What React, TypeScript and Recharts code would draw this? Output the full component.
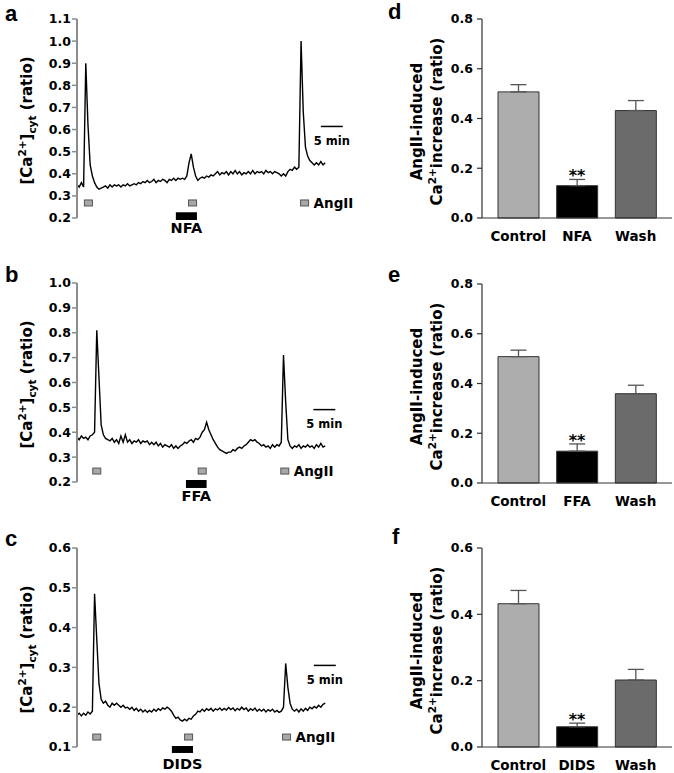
import React from 'react';
import {
  LineChart,
  Line,
  XAxis,
  YAxis,
  ReferenceDot,
  ReferenceArea,
  ReferenceLine,
  BarChart,
  Bar,
  ErrorBar,
  Cell,
} from 'recharts';

const FONT = "'DejaVu Sans', sans-serif";
const SAMPLE_MIN = 0.5; // one reading every 30 s

// [Ca2+]cyt ratio traces
const TRACE_A = [
  0.35, 0.34, 0.36, 0.34, 0.9, 0.62, 0.44, 0.39, 0.36, 0.34,
  0.33, 0.335, 0.34, 0.345, 0.335, 0.35, 0.34, 0.35, 0.345, 0.35,
  0.34, 0.35, 0.345, 0.355, 0.345, 0.35, 0.355, 0.35, 0.36, 0.355,
  0.365, 0.36, 0.37, 0.36, 0.365, 0.375, 0.36, 0.37, 0.365, 0.375,
  0.37, 0.36, 0.375, 0.37, 0.38, 0.37, 0.38, 0.375, 0.38, 0.375,
  0.39, 0.45, 0.49, 0.43, 0.39, 0.37, 0.38, 0.385, 0.38, 0.39,
  0.385, 0.395, 0.39, 0.4, 0.41, 0.395, 0.405, 0.4, 0.41, 0.395,
  0.41, 0.4, 0.415, 0.4, 0.41, 0.395, 0.405, 0.4, 0.41, 0.4,
  0.415, 0.4, 0.41, 0.405, 0.41, 0.4, 0.415, 0.405, 0.41, 0.4,
  0.41, 0.405, 0.4, 0.39, 0.4, 0.39, 0.41, 0.42, 0.415, 0.43,
  0.42, 0.43, 1.0, 0.68, 0.52, 0.48, 0.46, 0.45, 0.44, 0.45,
  0.44, 0.455, 0.44, 0.45,
];

const TRACE_B = [
  0.38, 0.37, 0.385, 0.375, 0.38, 0.37, 0.385, 0.39, 0.4, 0.81,
  0.62, 0.43, 0.39, 0.375, 0.37, 0.365, 0.375, 0.36, 0.37, 0.355,
  0.385, 0.36, 0.39, 0.36, 0.37, 0.355, 0.365, 0.36, 0.37, 0.355,
  0.365, 0.36, 0.365, 0.35, 0.36, 0.35, 0.36, 0.345, 0.355, 0.34,
  0.35, 0.345, 0.34, 0.35, 0.335, 0.345, 0.335, 0.345, 0.35, 0.36,
  0.355, 0.365, 0.37, 0.36, 0.375, 0.37, 0.38, 0.4, 0.41, 0.44,
  0.41, 0.39, 0.37, 0.355, 0.34, 0.33, 0.325, 0.32, 0.315, 0.32,
  0.32, 0.33, 0.325, 0.335, 0.34, 0.335, 0.345, 0.35, 0.36, 0.37,
  0.365, 0.37, 0.36, 0.355, 0.345, 0.35, 0.34, 0.345, 0.335, 0.35,
  0.34, 0.35, 0.345, 0.36, 0.71, 0.52, 0.37, 0.345, 0.335, 0.345,
  0.34, 0.35, 0.335, 0.345, 0.34, 0.35, 0.34, 0.345, 0.335, 0.35,
  0.34, 0.355, 0.34, 0.345,
];

const TRACE_C = [
  0.18, 0.185, 0.178, 0.185, 0.18, 0.188, 0.183, 0.19, 0.485, 0.37,
  0.26, 0.22, 0.21, 0.215, 0.205, 0.2, 0.21, 0.205, 0.21, 0.205,
  0.2, 0.205, 0.198, 0.2, 0.195, 0.2, 0.192, 0.197, 0.19, 0.195,
  0.188, 0.193, 0.187, 0.192, 0.188, 0.195, 0.19, 0.196, 0.192, 0.198,
  0.195, 0.2, 0.196, 0.19, 0.18, 0.172, 0.175, 0.168, 0.165, 0.17,
  0.166, 0.172, 0.17, 0.178, 0.182, 0.19, 0.188, 0.195, 0.19, 0.196,
  0.192, 0.197, 0.19, 0.196, 0.193, 0.198, 0.192, 0.197, 0.193, 0.199,
  0.194, 0.198, 0.191, 0.197, 0.193, 0.2, 0.194, 0.198, 0.19, 0.196,
  0.192, 0.198, 0.19, 0.195, 0.19, 0.195, 0.188, 0.194, 0.19, 0.195,
  0.188, 0.192, 0.187, 0.19, 0.2, 0.31, 0.25, 0.21, 0.195, 0.19,
  0.195, 0.188, 0.196, 0.19, 0.197, 0.192, 0.2, 0.196, 0.202, 0.198,
  0.205, 0.2, 0.207, 0.21,
];

const TICKS_A = [0.2, 0.3, 0.4, 0.5, 0.6, 0.7, 0.8, 0.9, 1.0, 1.1];
const TICKS_B = [0.2, 0.3, 0.4, 0.5, 0.6, 0.7, 0.8, 0.9, 1.0];
const TICKS_C = [0.1, 0.2, 0.3, 0.4, 0.5, 0.6];

// AngII pulses (min) and blocker application window (min)
const ANGII_A = [2.6, 26.3, 51.8];
const ANGII_B = [4.5, 28.5, 47.3];
const ANGII_C = [4.5, 25.4, 47.7];
const BLOCK_A = [22.5, 27.3];
const BLOCK_B = [24.8, 29.5];
const BLOCK_C = [21.6, 26.4];
const SCALE_A = [55.5, 60.5];
const SCALE_B = [53.8, 58.8];
const SCALE_C = [53.9, 58.9];

// summary bars (mean, SEM)
const GROUPS_D = ['Control', 'NFA', 'Wash'];
const MEAN_D = [0.507, 0.13, 0.432];
const SEM_D = [0.029, 0.025, 0.04];
const GROUPS_E = ['Control', 'FFA', 'Wash'];
const MEAN_E = [0.508, 0.128, 0.359];
const SEM_E = [0.026, 0.029, 0.034];
const GROUPS_F = ['Control', 'DIDS', 'Wash'];
const MEAN_F = [0.432, 0.061, 0.202];
const SEM_F = [0.04, 0.011, 0.032];
const SIG = ['', '**', ''];
const BAR_TICKS_DE = [0, 0.2, 0.4, 0.6, 0.8];
const BAR_TICKS_F = [0, 0.2, 0.4, 0.6];
const BAR_FILLS = ['#adadad', '#000000', '#6b6b6b'];

const boldText = { fill: '#000', fontFamily: FONT, fontWeight: 'bold' as const };

function TraceLabel(props: any) {
  const vb = props.viewBox || { x: 0, y: 19, width: 77, height: 199 };
  const cx = vb.x + 27;
  const cy = vb.y + vb.height / 2 + 2;
  return (
    <text
      x={cx}
      y={cy + 5}
      transform={`rotate(-90 ${cx} ${cy})`}
      textAnchor="middle"
      fontFamily={FONT}
      fontWeight="bold"
      fontSize={15}
      fill="#000"
    >
      [Ca<tspan fontSize={10.5} dy={-6}>2+</tspan>
      <tspan dy={6}>]</tspan>
      <tspan fontSize={10.5} dy={4}>cyt</tspan>
      <tspan dy={-4}> (ratio)</tspan>
    </text>
  );
}

function BarLabel(props: any) {
  const vb = props.viewBox || { x: 0, y: 19, width: 142, height: 199 };
  const cy = vb.y + vb.height / 2 + 3;
  const x1 = vb.x + vb.width - 65;
  const x2 = vb.x + vb.width - 45;
  return (
    <g fontFamily={FONT} fontWeight="bold" fontSize={15} fill="#000">
      <text x={x1} y={cy + 5} transform={`rotate(-90 ${x1} ${cy})`} textAnchor="middle">
        AngII-induced
      </text>
      <text x={x2} y={cy + 5} transform={`rotate(-90 ${x2} ${cy})`} textAnchor="middle">
        Ca<tspan fontSize={10.5} dy={-6}>2+</tspan>
        <tspan dy={6}>increase (ratio)</tspan>
      </text>
    </g>
  );
}

const square = (p: any) => (
  <rect x={p.cx - 4} y={p.cy - 3} width={8} height={6} fill="#a8a8a8" stroke="#555" strokeWidth={1} />
);

function TracePanel({ top, values, ticks, angII, markY, block, blockY, drug, drugGap, scale, scaleY }: any) {
  const data = values.map((v: number, i: number) => ({ t: i * SAMPLE_MIN, v }));
  return (
    <div style={{ position: 'absolute', left: 0, top }}>
      <LineChart width={360} height={250} data={data} margin={{ top: 19, right: 15, bottom: 32, left: 0 }}>
        <XAxis type="number" dataKey="t" domain={[0, 61]} hide height={0} />
        <YAxis
          type="number"
          domain={[ticks[0], ticks[ticks.length - 1]]}
          ticks={ticks}
          interval={0}
          width={77}
          tickFormatter={(v: number) => v.toFixed(1)}
          axisLine={{ stroke: '#8c8c8c', strokeWidth: 2 }}
          tickLine={{ stroke: '#8c8c8c', strokeWidth: 1.5 }}
          tickSize={5}
          tickMargin={1}
          tick={{ ...boldText, fontSize: 12.5 }}
          label={{ content: (p: any) => <TraceLabel {...p} /> }}
        />
        <Line type="linear" dataKey="v" stroke="#000" strokeWidth={1.4} dot={false} isAnimationActive={false} />
        {angII.map((t: number, i: number) => (
          <ReferenceDot
            key={i}
            x={t}
            y={markY}
            r={4}
            shape={square}
            ifOverflow="visible"
            label={
              i === angII.length - 1
                ? { value: 'AngII', position: 'right', offset: 5, ...boldText, fontSize: 13.5 }
                : undefined
            }
          />
        ))}
        <ReferenceArea
          x1={block[0]}
          x2={block[1]}
          y1={blockY[0]}
          y2={blockY[1]}
          fill="#000"
          fillOpacity={1}
          stroke="none"
          ifOverflow="visible"
          label={{ value: drug, position: 'bottom', offset: drugGap, ...boldText, fontSize: 14.5 }}
        />
        <ReferenceLine
          segment={[
            { x: scale[0], y: scaleY },
            { x: scale[1], y: scaleY },
          ]}
          stroke="#000"
          strokeWidth={1.5}
          ifOverflow="visible"
          label={{ value: '5 min', position: 'bottom', offset: 10, ...boldText, fontSize: 11.5 }}
        />
      </LineChart>
    </div>
  );
}

function BarPanel({ top, groups, means, sems, ticks }: any) {
  const data = groups.map((g: string, i: number) => ({ name: g, mean: means[i], err: [0, sems[i]] }));
  return (
    <div style={{ position: 'absolute', left: 340, top }}>
      <BarChart width={334} height={250} data={data} margin={{ top: 19, right: 2, bottom: 2, left: 0 }} barSize={41}>
        <XAxis
          dataKey="name"
          height={30}
          padding={{ left: 7, right: 7 }}
          tickLine={false}
          axisLine={{ stroke: '#333', strokeWidth: 1.2 }}
          tick={{ ...boldText, fontSize: 13.5 }}
          tickMargin={7}
          interval={0}
        />
        <YAxis
          type="number"
          domain={[0, ticks[ticks.length - 1]]}
          ticks={ticks}
          interval={0}
          width={142}
          tickFormatter={(v: number) => v.toFixed(1)}
          axisLine={{ stroke: '#333', strokeWidth: 1.2 }}
          tickLine={{ stroke: '#333', strokeWidth: 1.2 }}
          tickSize={5}
          tickMargin={4}
          tick={{ ...boldText, fontSize: 12.5 }}
          label={{ content: (p: any) => <BarLabel {...p} /> }}
        />
        <Bar dataKey="mean" stroke="#333" strokeWidth={1} isAnimationActive={false}>
          {data.map((_: any, i: number) => (
            <Cell key={i} fill={BAR_FILLS[i]} />
          ))}
          <ErrorBar dataKey="err" width={8} stroke="#555" strokeWidth={1.3} />
        </Bar>
        {data.map((d: any, i: number) =>
          SIG[i] ? (
            <ReferenceDot
              key={i}
              x={d.name}
              y={d.mean + sems[i]}
              r={3}
              fill="none"
              stroke="none"
              ifOverflow="visible"
              label={{ value: SIG[i], position: 'top', offset: -5, ...boldText, fontSize: 16 }}
            />
          ) : null
        )}
      </BarChart>
    </div>
  );
}

const letterStyle: React.CSSProperties = {
  position: 'absolute',
  fontFamily: "'Liberation Sans', Arial, sans-serif",
  fontWeight: 'bold',
  fontSize: 22,
  lineHeight: '22px',
};

export default function App() {
  return (
    <div style={{ position: 'absolute', left: 0, top: 0, width: 674, height: 773, background: '#fff' }}>
      <TracePanel
        top={0}
        values={TRACE_A}
        ticks={TICKS_A}
        angII={ANGII_A}
        markY={0.268}
        block={BLOCK_A}
        blockY={[0.191, 0.226]}
        drug="NFA"
        drugGap={3}
        scale={SCALE_A}
        scaleY={0.614}
      />
      <TracePanel
        top={264}
        values={TRACE_B}
        ticks={TICKS_B}
        angII={ANGII_B}
        markY={0.244}
        block={BLOCK_B}
        blockY={[0.176, 0.208]}
        drug="FFA"
        drugGap={3}
        scale={SCALE_B}
        scaleY={0.491}
      />
      <TracePanel
        top={529}
        values={TRACE_C}
        ticks={TICKS_C}
        angII={ANGII_C}
        markY={0.125}
        block={BLOCK_C}
        blockY={[0.085, 0.1025]}
        drug="DIDS"
        drugGap={6}
        scale={SCALE_C}
        scaleY={0.305}
      />
      <BarPanel top={0} groups={GROUPS_D} means={MEAN_D} sems={SEM_D} ticks={BAR_TICKS_DE} />
      <BarPanel top={265} groups={GROUPS_E} means={MEAN_E} sems={SEM_E} ticks={BAR_TICKS_DE} />
      <BarPanel top={529} groups={GROUPS_F} means={MEAN_F} sems={SEM_F} ticks={BAR_TICKS_F} />
      <div style={{ ...letterStyle, left: 5, top: 3 }}>a</div>
      <div style={{ ...letterStyle, left: 5, top: 264 }}>b</div>
      <div style={{ ...letterStyle, left: 5, top: 528 }}>c</div>
      <div style={{ ...letterStyle, left: 388, top: 1 }}>d</div>
      <div style={{ ...letterStyle, left: 388, top: 264 }}>e</div>
      <div style={{ ...letterStyle, left: 392, top: 526 }}>f</div>
    </div>
  );
}
